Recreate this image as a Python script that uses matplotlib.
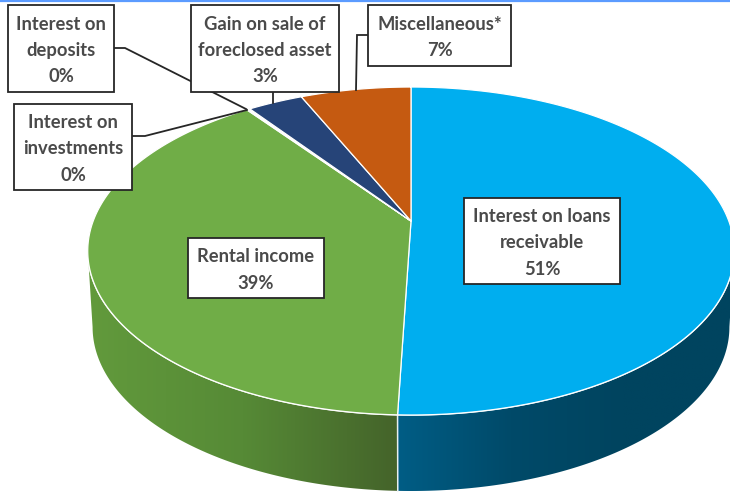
import numpy as np
import matplotlib
matplotlib.use("Agg")
import matplotlib.pyplot as plt
from matplotlib.patches import Polygon, Rectangle
from matplotlib.colors import LinearSegmentedColormap

# ---- data (clockwise from 12 o'clock) ----
categories = ["Interest on loans\nreceivable", "Rental income", "Interest on\ninvestments",
              "Interest on\ndeposits", "Gain on sale of\nforeclosed asset", "Miscellaneous*"]
shares = [50.55, 39.35, 0.1, 0.1, 3.3, 6.6]
colors = ["#00AEEF", "#70AD47", "#5B9BD5", "#A5A5A5", "#264478", "#C55A11"]

# ---- layout (pixels) ----
W, H = 730, 492
VX, VY = 411.0, 221.0      # pie vertex on screen
A, B, K = 317.8, 158.5, 0.183   # perspective of the top disc
DEPTH, SHRINK = 76.0, 0.985
boxes = [(464, 198, 620, 284), (188, 238, 324, 298), (14, 104, 132, 190),
         (8, 5, 114, 92), (191, 5, 339, 92), (368, 5, 511, 66)]
leaders = [None, None,
           [(132, 136), (145, 136), (247, 110)],
           [(114, 48), (125, 48), (246, 109)],
           [(273, 92), (273, 103)],
           [(368, 35), (357, 35), (356, 90)]]


def project(theta):
    u, v = np.sin(theta), np.cos(theta)
    d = 1 + K * v
    return VX + A * u / d, VY - B * v / d


def project_bottom(theta):
    x, y = project(theta)
    return VX + SHRINK * (x - VX), y + DEPTH


plt.rcParams["font.family"] = ["Lato", "DejaVu Sans"]
fig = plt.figure(figsize=(W / 100, H / 100), dpi=100, facecolor="white")
ax = fig.add_axes([0, 0, 1, 1])
ax.set_xlim(0, W)
ax.set_ylim(H, 0)
ax.axis("off")

edges = np.cumsum([0] + shares) / sum(shares) * 2 * np.pi
front_lo = np.arccos(-K)
front_hi = 2 * np.pi - front_lo

side_maps = {
    0: LinearSegmentedColormap.from_list("b", ["#005D85", "#004A69", "#00445F", "#00445F"]),
    1: LinearSegmentedColormap.from_list("g", ["#629A3C", "#568A36", "#44632A"]),
}

# side wall, only for wedges facing the viewer
for i in range(len(shares)):
    lo, hi = max(edges[i], front_lo), min(edges[i + 1], front_hi)
    if hi <= lo:
        continue
    th = np.linspace(lo, hi, 160)
    xt, yt = project(th)
    xb, yb = project_bottom(th)
    pts = np.column_stack([np.r_[xt, xb[::-1]], np.r_[yt, yb[::-1]]])
    poly = Polygon(pts, closed=True, facecolor="none", edgecolor="none")
    ax.add_patch(poly)
    x0, x1 = pts[:, 0].min(), pts[:, 0].max()
    grad = np.linspace(0, 1, 256).reshape(1, -1)
    cmap = side_maps[0] if i == 0 else side_maps[1]
    im = ax.imshow(grad, extent=[x0, x1, pts[:, 1].max(), pts[:, 1].min()],
                   cmap=cmap, aspect="auto", zorder=1, interpolation="bilinear")
    im.set_clip_path(poly)
    ax.plot(xt, yt, color="white", lw=1.1, zorder=2)

# vertical seam between the two front walls
seam = edges[1]
sx0, sy0 = project(seam)
sx1, sy1 = project_bottom(seam)
ax.plot([sx0, sx1], [sy0, sy1], color="#E8EEF0", lw=1.1, zorder=2)

# top disc
for i, c in enumerate(colors):
    th = np.linspace(edges[i], edges[i + 1], 200)
    x, y = project(th)
    pts = np.column_stack([np.r_[VX, x], np.r_[VY, y]])
    ax.add_patch(Polygon(pts, closed=True, facecolor=c, edgecolor="white", lw=0.9,
                         joinstyle="round", zorder=3))

# leader lines
for seg in leaders:
    if seg is not None:
        xs, ys = zip(*seg)
        ax.plot(xs, ys, color="#262626", lw=1.3, zorder=4, solid_joinstyle="miter")

# label boxes
for name, s, (x0, y0, x1, y1) in zip(categories, shares, boxes):
    ax.add_patch(Rectangle((x0, y0), x1 - x0, y1 - y0, facecolor="white",
                           edgecolor="#262626", lw=1.3, zorder=5))
    ax.text((x0 + x1) / 2, (y0 + y1) / 2 + 2, f"{name}\n{round(s)}%", ha="center", va="center",
            fontsize=13.2, fontweight="bold", color="#4A4A4A", linespacing=1.67, zorder=6)

# screenshot edge along the top
ax.axhline(0.5, color="#5B9BFF", lw=1.6, zorder=7, clip_on=True)

ax.set_xlim(0, W)
ax.set_ylim(H, 0)
fig.savefig("out.png", dpi=100, facecolor="white")
